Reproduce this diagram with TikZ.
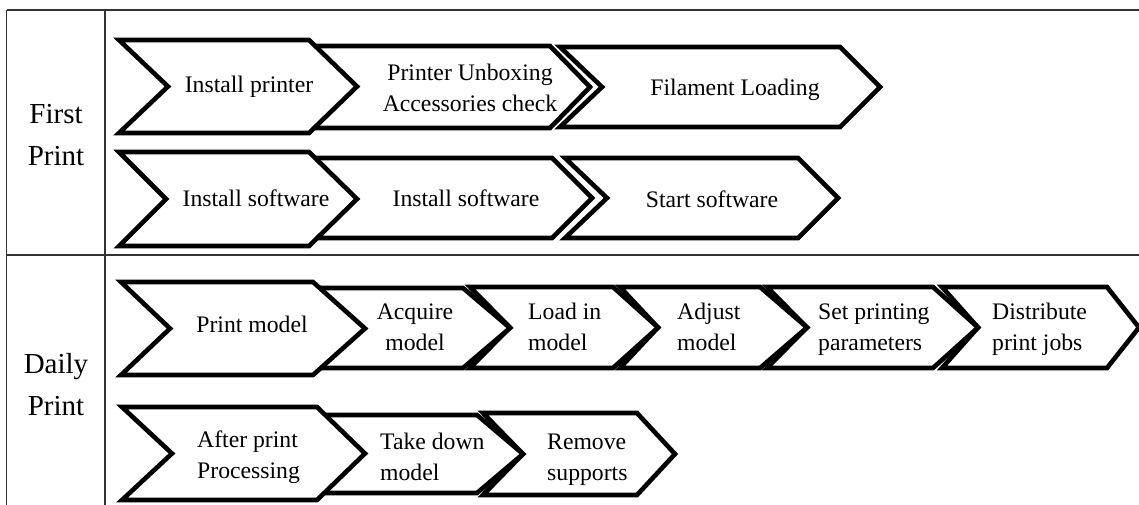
\documentclass[tikz,border=0pt]{standalone}
\usepackage{fontspec}
\setmainfont{Liberation Serif}
\newcommand{\mychev}[7]{\draw[chev] (#1,#5) -- (#3,#5) -- (#4,#7) -- (#3,#6) -- (#1,#6) -- (#2,#7) -- cycle;}
\begin{document}
\begin{tikzpicture}[x=1pt,y=-1pt,
  chev/.style={draw=black, line width=4.6pt, fill=white, miter limit=10},
  lbl/.style={font=\fontsize{23.7}{31}\selectfont, inner sep=0pt},
  lbll/.style={lbl, align=left, anchor=base west},
  lblc/.style={lbl, align=center, anchor=base},
  rowlbl/.style={font=\fontsize{29}{42}\selectfont, align=center, inner sep=0pt, anchor=base},
  grid/.style={line width=1.2pt, draw=black!80}]
\useasboundingbox (0,0) rectangle (1139,505);
\fill[white] (0,0) rectangle (1139,505);
% table
\coordinate (tl) at (6.5,10);
\coordinate (tr) at (1139,10);
\coordinate (ml) at (6.5,255);
\coordinate (mr) at (1139,255);
\coordinate (bl) at (6.5,505);
\coordinate (ct) at (105,10);
\coordinate (cb) at (105,505);
\draw[grid] (tl) -- (tr);
\draw[grid] (ml) -- (mr);
\draw[grid] (tl) -- (bl);
\draw[grid] (ct) -- (cb);
% multi-line nodes: base anchor = baseline of last line
\node[rowlbl] (first) at (56,165) {First\\Print};
\node[rowlbl] (daily) at (56,415) {Daily\\Print};
% First Print, row 1
\mychev{560}{602}{840}{880}{47}{127}{87}
\mychev{300}{340}{550}{590}{46}{128}{87}
\mychev{119}{168}{309}{357}{40}{133}{86.5}
\node[lblc] (a1) at (249,93) {Install printer};
\node[lblc] (a2) at (470,112) {Printer Unboxing\\Accessories check};
\node[lblc] (a3) at (735,96) {Filament Loading};
% First Print, row 2
\mychev{565}{607}{798}{838}{158}{238}{198}
\mychev{300}{340}{552}{592}{158}{238}{198}
\mychev{119}{166}{309}{357}{152}{246}{199}
\node[lblc] (b1) at (256,206) {Install software};
\node[lblc] (b2) at (466,206) {Install software};
\node[lblc] (b3) at (712,207) {Start software};
% Daily Print, row 1
\mychev{942}{978}{1107}{1139}{287}{368}{327.5}
\mychev{767}{807}{933}{978}{287}{368}{327.5}
\mychev{620}{658}{760}{807}{287}{368}{327.5}
\mychev{470}{510}{613}{658}{287}{368}{327.5}
\mychev{310}{350}{463}{510}{288}{368}{328}
\mychev{121}{170}{313}{365}{282}{375}{328.5}
\node[lblc] (c1) at (252,332) {Print model};
\node[lblc] (c2) at (415,350) {Acquire\\model};
\node[lbll] (c3) at (528,350) {Load in\\model};
\node[lbll] (c4) at (677,350) {Adjust\\model};
\node[lbll] (c5) at (818,350) {Set printing\\parameters};
\node[lbll] (c6) at (992,350) {Distribute\\print jobs};
% Daily Print, row 2
\mychev{483}{523}{637}{675}{413}{495}{454}
\mychev{318}{355}{477}{523}{415}{493}{454}
\mychev{122}{172}{317}{365}{407}{500}{453.5}
\node[lbll] (d1) at (197,478) {After print\\Processing};
\node[lbll] (d2) at (380,480) {Take down\\model};
\node[lbll] (d3) at (547,480) {Remove\\supports};
\end{tikzpicture}
\end{document}
